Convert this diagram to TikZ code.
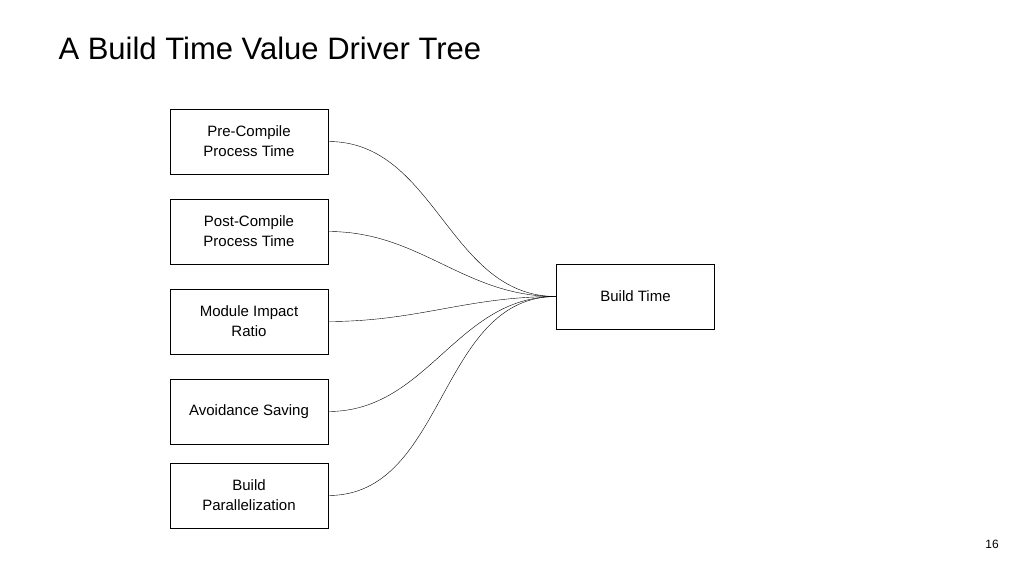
\documentclass[tikz,border=0pt]{standalone}
\usepackage{fontspec}
\setmainfont{Liberation Sans}
\begin{document}
\begin{tikzpicture}[x=1pt,y=-1pt,
  box/.style={draw,thick,minimum width=158pt,minimum height=65pt,align=center,font=\fontsize{15}{20}\selectfont,inner sep=0pt},
  link/.style={draw,thin,out=0,in=180}]
\useasboundingbox (0,0) rectangle (1024,576);
\node[anchor=west,font=\fontsize{31}{36}\selectfont] (title) at (55,48) {A Build Time Value Driver Tree};
\node[box] (a) at (249,141.5) {Pre-Compile\\Process Time};
\node[box] (b) at (249,231.5) {Post-Compile\\Process Time};
\node[box] (c) at (249,321.5) {Module Impact\\Ratio};
\node[box] (d) at (249,411.5) {Avoidance Saving};
\node[box] (e) at (249,495.5) {Build\\Parallelization};
\node[box] (t) at (635.5,296.5) {Build Time};
\foreach \n in {a,b,c,d,e} \draw[link] (\n.east) to (t.west);
\node[font=\fontsize{12}{14}\selectfont] (pg) at (992,544) {16};
\end{tikzpicture}
\end{document}
